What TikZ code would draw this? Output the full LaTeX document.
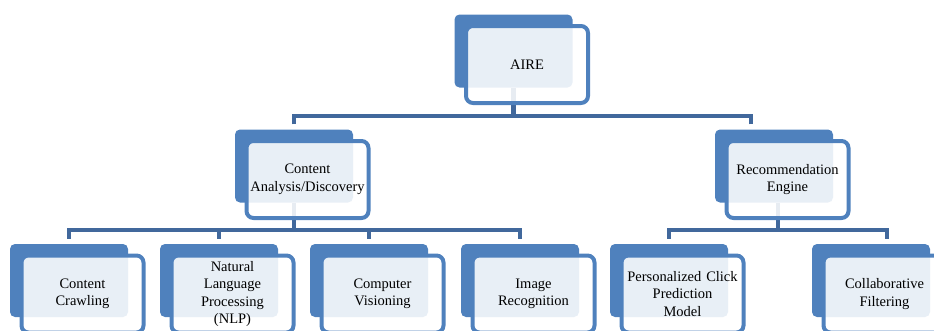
\documentclass[tikz,border=0pt]{standalone}
\usepackage{fontspec}
\setmainfont{Liberation Serif}
\usepackage{tikz}
\usepackage{xcolor}
\usetikzlibrary{backgrounds}
\definecolor{boxblue}{HTML}{4F81BD}
\definecolor{linkblue}{HTML}{41689C}
\tikzstyle{back}=[rectangle, rounded corners=5pt, fill=boxblue, minimum width=118pt, minimum height=73pt, inner sep=0pt]
\tikzstyle{front}=[rectangle, rounded corners=7pt, draw=boxblue, line width=4pt, fill=white, fill opacity=0.875, text opacity=1, minimum width=122pt, minimum height=77pt, xshift=13.5pt, yshift=-13.5pt, text width=116pt, align=center, inner sep=0pt, font=\fontsize{14.5}{17.5}\selectfont]
\tikzset{link/.style={draw=linkblue, line width=4.5pt}}

\begin{document}
\begin{tikzpicture}[x=1pt, y=-1pt]
    \useasboundingbox (0, 0) rectangle (934, 330);
    \clip (0, 0) rectangle (934, 330);

    \draw node at (513.5, 51) [back] (bk-aire) {};
    \draw node at (bk-aire.center) [front] (fr-aire) {AIRE};

    \draw node at (294, 166) [back] (bk-ca) {};
    \draw node at (bk-ca.center) [front] (fr-ca) {Content\\Analysis/Discovery};
    \draw node at (774, 166) [back] (bk-re) {};
    \draw node at (bk-re.center) [front] (fr-re) {Recommendation\\Engine};

    \draw node at (69, 280.5) [back] (bk-cc) {};
    \draw node at (bk-cc.center) [front] (fr-cc) {Content\\Crawling};
    \draw node at (219, 280.5) [back] (bk-nlp) {};
    \draw node at (bk-nlp.center) [front] (fr-nlp) {Natural\\Language\\Processing\\(NLP)};
    \draw node at (369, 280.5) [back] (bk-cv) {};
    \draw node at (bk-cv.center) [front] (fr-cv) {Computer\\Visioning};
    \draw node at (520, 280.5) [back] (bk-ir) {};
    \draw node at (bk-ir.center) [front] (fr-ir) {Image\\Recognition};
    \draw node at (669, 280.5) [back] (bk-pcp) {};
    \draw node at (bk-pcp.center) [front] (fr-pcp) {Personalized Click\\Prediction\\Model};
    \draw node at (871, 280.5) [back] (bk-cf) {};
    \draw node at (bk-cf.center) [front] (fr-cf) {Collaborative\\Filtering};

    \begin{scope}[on background layer]
    \coordinate (j1) at (513.5, 116);
    \coordinate (j2) at (294, 230);
    \coordinate (j3) at (778, 230);

    \draw [link] (bk-aire.south) -- (j1);
    \draw [link, shorten <=5pt] (bk-ca.north) |- (j1);
    \draw [link, shorten <=5pt] ([xshift=-23pt]bk-re.north) |- (j1);

    \draw [link] (bk-ca.south) -- (j2);
    \draw [link, shorten <=5pt] (bk-cc.north) |- (j2);
    \draw [link, shorten <=5pt] (bk-nlp.north) |- (j2);
    \draw [link, shorten <=5pt] (bk-cv.north) |- (j2);
    \draw [link, shorten <=5pt] (bk-ir.north) |- (j2);

    \draw [link] ([xshift=4pt]bk-re.south) -- (j3);
    \draw [link, shorten <=5pt] (bk-pcp.north) |- (j3);
    \draw [link, shorten <=5pt] ([xshift=16pt]bk-cf.north) |- (j3);
    \end{scope}
\end{tikzpicture}
\end{document}
